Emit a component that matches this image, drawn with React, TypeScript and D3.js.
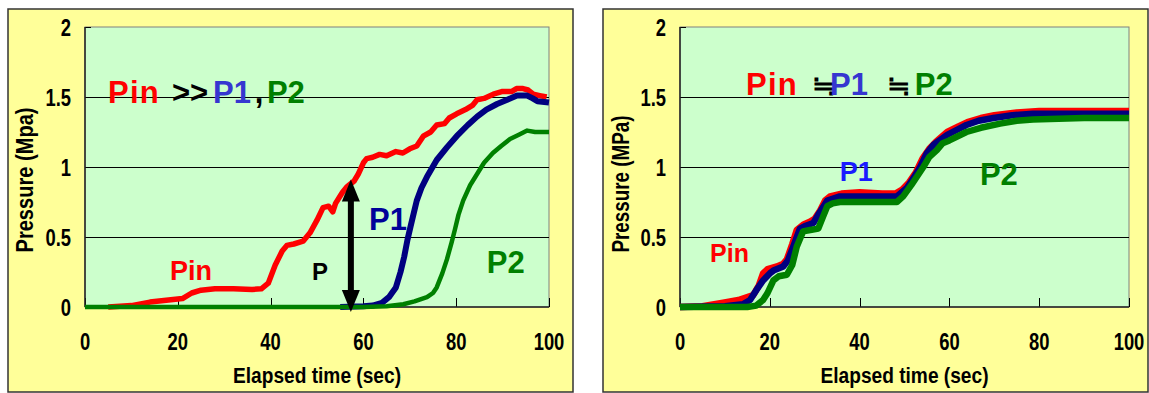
import React from "react";
import * as d3 from "d3";

// ---------- DATA ----------
const xTicks = [0, 20, 40, 60, 80, 100];
const yTicks = [0, 0.5, 1, 1.5, 2];
const yTickLabels = ["0", "0.5", "1", "1.5", "2"];

// Left chart: [time (sec), pressure (MPa)]
const leftPin: [number, number][] = [
  [5, 0], [10, 0.01], [14, 0.035], [18, 0.05], [21, 0.06], [23, 0.1], [25, 0.12], [28, 0.13],
  [32, 0.13], [36, 0.125], [38, 0.13], [39.5, 0.17], [41, 0.3], [42.5, 0.4], [43.5, 0.44],
  [45, 0.45], [47, 0.47], [48.5, 0.53], [50, 0.62], [51.3, 0.71], [52.5, 0.72], [53.4, 0.68],
  [54, 0.74], [55.5, 0.82], [56.5, 0.86], [58, 0.9], [58.9, 0.95], [60, 1.03], [60.7, 1.06],
  [62, 1.07], [63.5, 1.09], [65, 1.08], [67, 1.11], [68.5, 1.1], [70, 1.13], [71.5, 1.15],
  [72.9, 1.22], [74.5, 1.25], [75.8, 1.3], [77.5, 1.31], [78.5, 1.35], [80.1, 1.38], [82, 1.41],
  [83.5, 1.44], [84.5, 1.48], [86, 1.49], [88, 1.52], [90, 1.54], [92, 1.54], [93, 1.56],
  [94.4, 1.56], [95.5, 1.55], [96.6, 1.52], [98, 1.51], [99.5, 1.5],
];
const leftP1: [number, number][] = [
  [55, 0], [60, 0.005], [62, 0.01], [64, 0.03], [65.5, 0.07],
  [67, 0.14], [68, 0.25], [68.8, 0.36], [69.5, 0.48], [70.2, 0.58], [71.5, 0.76], [72.5, 0.85],
  [73.7, 0.93], [75.8, 1.05], [78, 1.14], [80.1, 1.22], [82.5, 1.3], [84.5, 1.36], [86.5, 1.41],
  [88.8, 1.45], [91, 1.48], [93.1, 1.51], [95.3, 1.51], [96.5, 1.49], [97.5, 1.47], [100, 1.46],
];
const leftP2: [number, number][] = [
  [0, 0], [40, 0], [60, 0], [65, 0.005], [68.6, 0.02], [71, 0.04], [73.7, 0.07], [75, 0.1],
  [75.8, 0.14], [77, 0.24], [78, 0.34], [79, 0.46], [79.7, 0.55], [80.5, 0.66], [81.5, 0.76],
  [83, 0.87], [84.5, 0.95], [86, 1.03], [87.9, 1.1], [89.7, 1.15], [91.6, 1.2], [93.5, 1.23],
  [95.3, 1.26], [97, 1.25], [100, 1.25],
];

// Right chart
const rightPin: [number, number][] = [
  [0, 0], [5, 0.005], [9.6, 0.03], [13, 0.05], [16.3, 0.085], [17.5, 0.15], [18.5, 0.24],
  [19.5, 0.27], [21.6, 0.29], [23, 0.31], [23.8, 0.34], [25, 0.45], [26, 0.55], [27.5, 0.59],
  [29, 0.61], [30, 0.63], [31.2, 0.69], [32.3, 0.76], [33.4, 0.79], [36, 0.81], [40, 0.82],
  [45, 0.81], [48, 0.81], [49.5, 0.84], [51, 0.89], [52.5, 0.96], [54, 1.06], [55.5, 1.13],
  [57, 1.18], [59.5, 1.25], [62, 1.29], [64, 1.32], [67, 1.35], [70, 1.37], [75, 1.39],
  [80, 1.4], [90, 1.4], [100, 1.4],
];
const rightP1: [number, number][] = [
  [0, 0], [10, 0.005], [14, 0.02], [15.6, 0.05], [17, 0.12], [18.5, 0.19], [20, 0.24],
  [20.8, 0.26], [23, 0.29], [24, 0.33], [25.2, 0.43], [26.7, 0.56], [28, 0.58], [29.7, 0.6],
  [30.8, 0.66], [32, 0.72], [32.8, 0.76], [35.6, 0.79], [40, 0.79], [45, 0.79], [48.3, 0.79],
  [50.5, 0.85], [52, 0.92], [53.5, 1.0], [55, 1.1], [56.5, 1.16], [59.5, 1.23], [62, 1.27],
  [63.8, 1.3], [66.5, 1.33], [69.8, 1.35], [74, 1.37], [78.6, 1.38], [90, 1.38], [100, 1.38],
];
const rightP2: [number, number][] = [
  [0, 0], [15, 0], [17, 0.01], [18.5, 0.05], [19.5, 0.1], [20.8, 0.19], [22, 0.22], [23.8, 0.23],
  [25, 0.3], [26, 0.43], [27.4, 0.54], [29, 0.55], [30.8, 0.56], [31.8, 0.64], [32.8, 0.72],
  [34, 0.74], [35.6, 0.75], [40, 0.75], [45, 0.75], [48.3, 0.75], [49.7, 0.79], [51.5, 0.87],
  [54.2, 1.0], [55.5, 1.07], [57.2, 1.12], [58.5, 1.17], [60, 1.19], [63.8, 1.25], [67, 1.28],
  [71.3, 1.31], [75, 1.33], [78.6, 1.34], [90, 1.35], [100, 1.35],
];

// Arrow (left chart): time, top pressure, bottom pressure
const arrowSpec = { t: 57.3, top: 0.91, bottom: -0.035 };

// Text annotations
type Ann = { text: string; t: number; p: number; color: string; size: number; spacing?: number; cjk?: boolean };
const leftAnnotations: Ann[] = [
  { text: "Pin", t: 4.96, p: 1.457, color: "#ff0000", size: 31, spacing: 1.2 },
  { text: ">>", t: 18.75, p: 1.457, color: "#000000", size: 31 },
  { text: "P1", t: 27.6, p: 1.457, color: "#3636d0", size: 31 },
  { text: ",", t: 36.6, p: 1.457, color: "#000000", size: 31 },
  { text: "P2", t: 39.2, p: 1.457, color: "#008000", size: 31 },
  { text: "Pin", t: 18.3, p: 0.193, color: "#ff0000", size: 27 },
  { text: "P", t: 48.9, p: 0.193, color: "#000000", size: 24 },
  { text: "P1", t: 61.2, p: 0.55, color: "#000099", size: 31 },
  { text: "P2", t: 86.6, p: 0.243, color: "#008000", size: 31 },
];
const rightAnnotations: Ann[] = [
  { text: "Pin", t: 14.7, p: 1.514, color: "#ff0000", size: 31, spacing: 1.2 },
  { text: "≒", t: 29.4, p: 1.514, color: "#000000", size: 28, cjk: true },
  { text: "P1", t: 33.4, p: 1.514, color: "#3636d0", size: 31 },
  { text: "≒", t: 46.1, p: 1.514, color: "#000000", size: 28, cjk: true },
  { text: "P2", t: 52.3, p: 1.514, color: "#008000", size: 31 },
  { text: "Pin", t: 6.7, p: 0.32, color: "#ff0000", size: 25 },
  { text: "P1", t: 35.6, p: 0.9, color: "#1a1aff", size: 27 },
  { text: "P2", t: 66.8, p: 0.87, color: "#008000", size: 31 },
];

const xTitle = "Elapsed time (sec)";
const leftYTitle = "Pressure (Mpa)";
const rightYTitle = "Pressure (MPa)";

// ---------- LAYOUT ----------
const W = 1149;
const H = 393;
const FONT = "'Liberation Sans', Arial, 'Noto Sans CJK JP', sans-serif";
const CJK = "'Noto Sans CJK JP', 'Liberation Sans', sans-serif";

type Series = { data: [number, number][]; color: string; width: number };
type PanelSpec = {
  frame: { x: number; y: number; w: number; h: number };
  plot: { x: number; y: number; w: number; h: number };
  series: Series[];
  annotations: Ann[];
  yTitle: string;
  yTitleX: number;
  yTitleCY: number;
  yTitleLen: number;
  arrow?: typeof arrowSpec;
};

const panels: PanelSpec[] = [
  {
    frame: { x: 8, y: 9, w: 565, h: 383 },
    plot: { x: 85, y: 27, w: 464, h: 280 },
    series: [
      { data: leftPin, color: "#ff0000", width: 5.5 },
      { data: leftP1, color: "#000080", width: 6 },
      { data: leftP2, color: "#008000", width: 4.5 },
    ],
    annotations: leftAnnotations,
    yTitle: leftYTitle,
    yTitleX: 33,
    yTitleCY: 180,
    yTitleLen: 145,
    arrow: arrowSpec,
  },
  {
    frame: { x: 603, y: 9, w: 545, h: 383 },
    plot: { x: 680, y: 27, w: 449, h: 280 },
    series: [
      { data: rightPin, color: "#ff0000", width: 6.5 },
      { data: rightP1, color: "#000080", width: 6.5 },
      { data: rightP2, color: "#008000", width: 6.5 },
    ],
    annotations: rightAnnotations,
    yTitle: rightYTitle,
    yTitleX: 629,
    yTitleCY: 184,
    yTitleLen: 137,
  },
];

function Panel({ spec }: { spec: PanelSpec }) {
  const { frame, plot } = spec;
  const x = d3.scaleLinear().domain([0, 100]).range([plot.x, plot.x + plot.w]);
  const y = d3.scaleLinear().domain([0, 2]).range([plot.y + plot.h, plot.y]);
  const line = d3
    .line<[number, number]>()
    .x((d) => x(d[0]))
    .y((d) => y(d[1]))
    .curve(d3.curveLinear);

  let arrowEl: React.ReactNode = null;
  if (spec.arrow) {
    const ax = x(spec.arrow.t);
    const yt = y(spec.arrow.top);
    const yb = y(spec.arrow.bottom);
    const hw = 9;
    const hl = 22;
    arrowEl = (
      <g fill="#000">
        <rect x={ax - 3} y={yt + hl - 2} width={6} height={yb - yt - 2 * hl + 4} />
        <path d={`M${ax},${yt} L${ax + hw},${yt + hl} L${ax - hw},${yt + hl} Z`} />
        <path d={`M${ax},${yb} L${ax + hw},${yb - hl} L${ax - hw},${yb - hl} Z`} />
      </g>
    );
  }

  return (
    <g>
      <rect x={frame.x} y={frame.y} width={frame.w} height={frame.h} fill="#ffff99" stroke="#333" strokeWidth={1.5} />
      <rect x={plot.x} y={plot.y} width={plot.w} height={plot.h} fill="#ccffcc" stroke="#808080" strokeWidth={1} />
      {yTicks.filter((v) => v > 0 && v < 2).map((v) => (
        <line key={"g" + v} x1={plot.x} x2={plot.x + plot.w} y1={Math.round(y(v)) + 0.5} y2={Math.round(y(v)) + 0.5} stroke="#000" strokeWidth={1} />
      ))}
      {yTicks.map((v) => (
        <line key={"yt" + v} x1={plot.x} x2={plot.x + 6} y1={Math.round(y(v)) + 0.5} y2={Math.round(y(v)) + 0.5} stroke="#000" strokeWidth={1} />
      ))}
      {xTicks.map((v) => (
        <line key={"xt" + v} x1={Math.round(x(v)) + 0.5} x2={Math.round(x(v)) + 0.5} y1={plot.y + plot.h} y2={plot.y + plot.h - 9} stroke="#000" strokeWidth={1} />
      ))}
      <line x1={plot.x} x2={plot.x} y1={plot.y} y2={plot.y + plot.h} stroke="#222" strokeWidth={1.5} />
      <line x1={plot.x} x2={plot.x + plot.w} y1={plot.y + plot.h} y2={plot.y + plot.h} stroke="#222" strokeWidth={1.5} />
      {spec.series.map((s, i) => (
        <path key={"s" + i} d={line(s.data) || ""} fill="none" stroke={s.color} strokeWidth={s.width} strokeLinejoin="round" strokeLinecap="butt" />
      ))}
      {arrowEl}
      {yTicks.map((v, i) => (
        <text key={"yl" + v} transform={`translate(${plot.x - 14},${y(v) + 8.5}) scale(0.8,1.05)`} textAnchor="end" fontFamily={FONT} fontWeight="bold" fontSize={23} fill="#000">
          {yTickLabels[i]}
        </text>
      ))}
      {xTicks.map((v) => (
        <text key={"xl" + v} transform={`translate(${x(v)},${plot.y + plot.h + 43}) scale(0.8,1.05)`} textAnchor="middle" fontFamily={FONT} fontWeight="bold" fontSize={23} fill="#000">
          {v}
        </text>
      ))}
      <text x={plot.x + plot.w / 2} y={383} textAnchor="middle" fontFamily={FONT} fontWeight="bold" fontSize={22} fill="#000" textLength={168} lengthAdjust="spacingAndGlyphs">
        {xTitle}
      </text>
      <text transform={`translate(${spec.yTitleX},${spec.yTitleCY}) rotate(-90)`} textAnchor="middle" fontFamily={FONT} fontWeight="bold" fontSize={24} fill="#000" textLength={spec.yTitleLen} lengthAdjust="spacingAndGlyphs">
        {spec.yTitle}
      </text>
      {spec.annotations.map((a, i) => (
        <text key={"a" + i} x={x(a.t)} y={y(a.p)} fontFamily={a.cjk ? CJK : FONT} fontWeight="bold" fontSize={a.size} fill={a.color} letterSpacing={a.spacing || 0}>
          {a.text}
        </text>
      ))}
    </g>
  );
}

export default function App() {
  return (
    <svg width={W} height={H} style={{ position: "absolute", left: 0, top: 0, display: "block" }}>
      <rect x={0} y={0} width={W} height={H} fill="#fff" />
      {panels.map((p, i) => (
        <Panel key={i} spec={p} />
      ))}
    </svg>
  );
}
